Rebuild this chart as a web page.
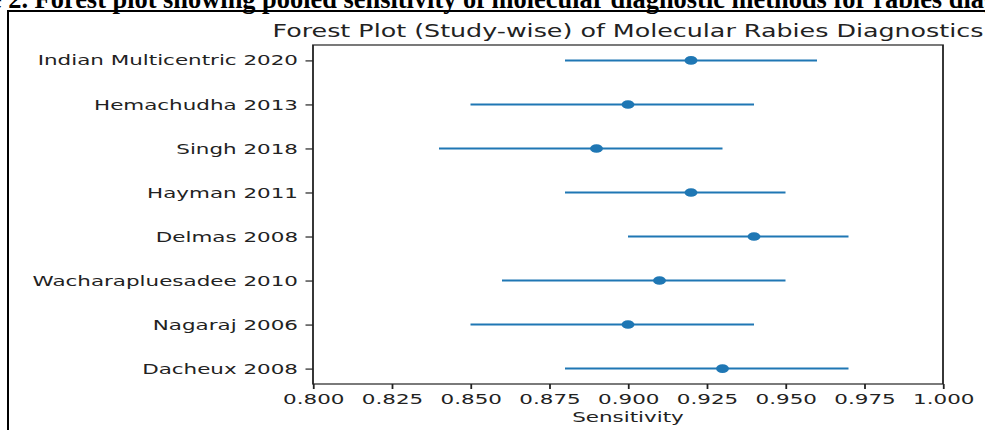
<!DOCTYPE html>
<html>
<head>
<meta charset="utf-8">
<script src="https://cdn.jsdelivr.net/npm/d3@7"></script>
<style>
  html, body { margin: 0; padding: 0; background: #fff; overflow: hidden; }
  svg { display: block; }
</style>
</head>
<body>
<div id="chart"></div>
<script>
// study rows, bottom to top (matplotlib puts index 0 at the bottom)
const studies = [
  "Dacheux 2008",
  "Nagaraj 2006",
  "Wacharapluesadee 2010",
  "Delmas 2008",
  "Hayman 2011",
  "Singh 2018",
  "Hemachudha 2013",
  "Indian Multicentric 2020",
];
const sensitivity = [0.93, 0.90, 0.91, 0.94, 0.92, 0.89, 0.90, 0.92];
const ciLower = [0.88, 0.85, 0.86, 0.90, 0.88, 0.84, 0.85, 0.88];
const ciUpper = [0.97, 0.94, 0.95, 0.97, 0.95, 0.93, 0.94, 0.96];
const xTicks = [0.8, 0.825, 0.85, 0.875, 0.9, 0.925, 0.95, 0.975, 1.0];

const captionLead = "Figure 2.";
const captionText =
  " Forest plot showing pooled sensitivity of molecular diagnostic methods for rabies diagnosis";
const titleText = "Forest Plot (Study-wise) of Molecular Rabies Diagnostics";
const xLabelText = "Sensitivity";

class ForestPlot {
  constructor(params) {
    this.attrs = Object.assign(
      {
        container: "#chart",
        width: 985,
        height: 430,
        stretchX: 1.5, // the source image is squeezed wider than tall
        plotLeft: 313,
        plotRight: 943,
        plotTop: 45,
        plotBottom: 384,
        color: "#1f77b4",
        font: "'DejaVu Sans', sans-serif",
        captionFont: "'Liberation Serif', 'Times New Roman', serif",
        captionSize: "26.4px",
      },
      params
    );
    this.main();
  }

  main() {
    const { attrs } = this;

    this.svg = d3
      .select(attrs.container)
      .append("svg")
      .attr("width", attrs.width)
      .attr("height", attrs.height);

    this.drawFrame();

    // everything of the plot is drawn in unstretched units, then widened
    this.g = this.svg
      .append("g")
      .attr("transform", `scale(${attrs.stretchX},1)`);

    this.setScales();
    this.drawAxes();
    this.drawRows();
    this.drawTexts();
  }

  drawFrame() {
    const { svg, attrs } = this;

    // only "e 2." of the caption's lead shows in the reference,
    // so measure the lead and push it past the left edge
    const probe = svg
      .append("text")
      .style("font-family", attrs.captionFont)
      .style("font-weight", "bold")
      .style("font-size", attrs.captionSize)
      .text(captionLead);
    const lead = probe.node().getComputedTextLength();
    probe.remove();

    svg
      .append("text")
      .attr("x", 28 - lead)
      .attr("y", 8)
      .style("font-family", attrs.captionFont)
      .style("font-weight", "bold")
      .style("font-size", attrs.captionSize)
      .style("white-space", "pre")
      .attr("fill", "#000")
      .text(captionLead + captionText);

    svg
      .append("rect")
      .attr("x", 8)
      .attr("y", 11)
      .attr("width", 1000)
      .attr("height", 440)
      .attr("fill", "none")
      .attr("stroke", "#000")
      .attr("stroke-width", 2);
  }

  setScales() {
    const { attrs } = this;
    const sx = attrs.stretchX;

    this.x = d3
      .scaleLinear()
      .domain([0.8, 1.0])
      .range([attrs.plotLeft / sx, attrs.plotRight / sx]);

    this.y = d3
      .scaleLinear()
      .domain([-0.35, studies.length - 1 + 0.35])
      .range([attrs.plotBottom, attrs.plotTop]);
  }

  drawAxes() {
    const { g, x, y, attrs } = this;

    const xAxis = g
      .append("g")
      .attr("transform", `translate(0,${attrs.plotBottom})`)
      .call(
        d3
          .axisBottom(x)
          .tickValues(xTicks)
          .tickFormat(d3.format(".3f"))
          .tickSize(5)
          .tickPadding(5)
          .tickSizeOuter(0)
      );

    const yAxis = g
      .append("g")
      .attr("transform", `translate(${x.range()[0]},0)`)
      .call(
        d3
          .axisLeft(y)
          .tickValues(d3.range(studies.length))
          .tickFormat((i) => studies[i])
          .tickSize(5)
          .tickPadding(5)
          .tickSizeOuter(0)
      );

    [xAxis, yAxis].forEach((ax) => {
      ax.select(".domain").remove();
      ax.selectAll(".tick line").attr("stroke", "#222").attr("stroke-width", 1.2);
      ax.selectAll(".tick text")
        .attr("fill", "#222")
        .style("font-family", attrs.font)
        .style("font-size", "14.3px");
    });

    // the four spines
    g.append("rect")
      .attr("x", x.range()[0])
      .attr("y", attrs.plotTop)
      .attr("width", x.range()[1] - x.range()[0])
      .attr("height", attrs.plotBottom - attrs.plotTop)
      .attr("fill", "none")
      .attr("stroke", "#222")
      .attr("stroke-width", 1.2);
  }

  drawRows() {
    const { g, x, y, attrs } = this;

    const rows = g
      .selectAll(".study-row")
      .data(studies.map((name, i) => ({ name, i })))
      .enter()
      .append("g")
      .attr("class", "study-row");

    rows
      .append("line")
      .attr("x1", (d) => x(ciLower[d.i]))
      .attr("x2", (d) => x(ciUpper[d.i]))
      .attr("y1", (d) => y(d.i))
      .attr("y2", (d) => y(d.i))
      .attr("stroke", attrs.color)
      .attr("stroke-width", 2);

    rows
      .append("circle")
      .attr("cx", (d) => x(sensitivity[d.i]))
      .attr("cy", (d) => y(d.i))
      .attr("r", 4.3)
      .attr("fill", attrs.color);
  }

  drawTexts() {
    const { g, x, attrs } = this;
    const cx = (x.range()[0] + x.range()[1]) / 2;

    g.append("text")
      .attr("x", cx)
      .attr("y", 37)
      .attr("text-anchor", "middle")
      .style("font-family", attrs.font)
      .style("font-size", "16.9px")
      .attr("fill", "#222")
      .text(titleText);

    g.append("text")
      .attr("x", cx)
      .attr("y", 422)
      .attr("text-anchor", "middle")
      .style("font-family", attrs.font)
      .style("font-size", "14.3px")
      .attr("fill", "#222")
      .text(xLabelText);
  }
}

new ForestPlot({});
</script>
</body>
</html>
